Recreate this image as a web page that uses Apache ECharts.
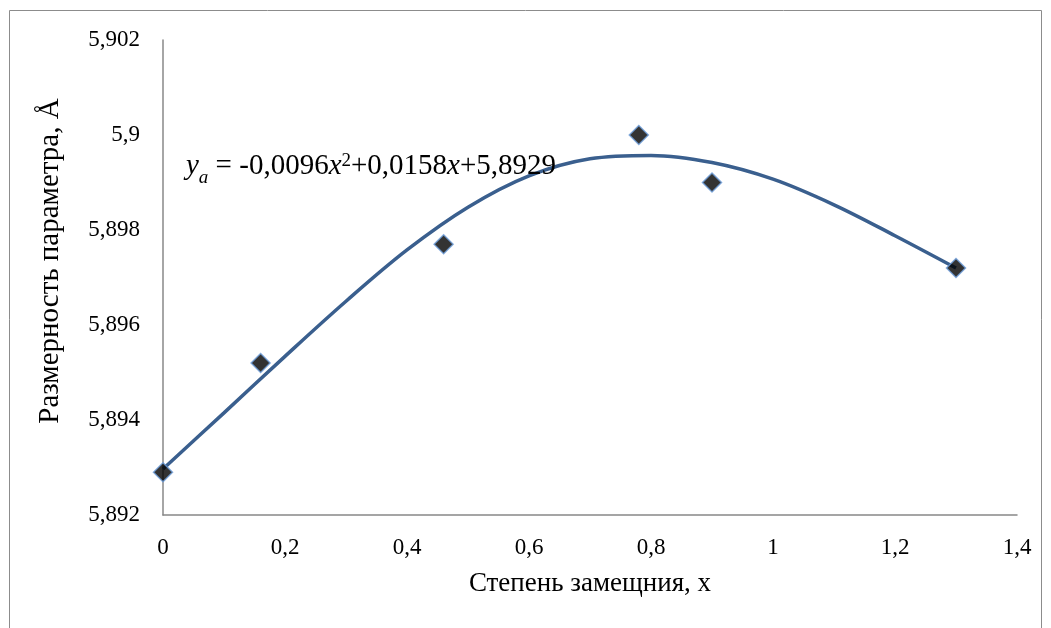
<!DOCTYPE html>
<html>
<head>
<meta charset="utf-8">
<script src="https://cdn.jsdelivr.net/npm/echarts@6/dist/echarts.min.js"></script>
<style>
  html, body {margin: 0; padding: 0; background: #fff;}
  #main {width: 1051px; height: 628px;}
</style>
</head>
<body>
<div id="main"></div>
<script>
// measured points
var substX = [0, 0.16, 0.46, 0.78, 0.9, 1.3];
var paramA = [5.8929, 5.8952, 5.8977, 5.9000, 5.8990, 5.8972];

// trend line, every 0.1
var trendX = [0, 0.1, 0.2, 0.3, 0.4, 0.5, 0.6, 0.7, 0.8, 0.9, 1.0, 1.1, 1.2, 1.3];
var trendY = [5.89297, 5.89415, 5.89534, 5.89650, 5.89758, 5.89848, 5.89914, 5.89950, 5.89957, 5.89942, 5.89907, 5.89853, 5.89788, 5.89720];

var xTitle = 'Степень замещния, x';
var yTitle = 'Размерность параметра, Å';

var font = '"Liberation Serif", Tinos, "Times New Roman", "DejaVu Serif", serif';

function comma(v) {
    return String(Math.round(v * 1000) / 1000).replace('.', ',');
}

var chart = echarts.init(document.getElementById('main'));

var trend = trendX.map(function (x, i) { return [x, trendY[i]]; });
var points = substX.map(function (x, i) { return [x, paramA[i]]; });

chart.setOption({
    backgroundColor: '#fff',
    animation: false,
    textStyle: {fontFamily: font},
    grid: {left: 163, right: 34, top: 40, bottom: 113},
    xAxis: {
        type: 'value',
        min: 0, max: 1.4, interval: 0.2,
        axisLine: {lineStyle: {color: '#888', width: 1.5}},
        axisTick: {show: false},
        splitLine: {show: false},
        axisLabel: {color: '#000', fontSize: 23, fontFamily: font, margin: 21, formatter: comma},
        name: xTitle,
        nameLocation: 'middle',
        nameGap: 55,
        nameTextStyle: {color: '#000', fontSize: 27, fontFamily: font}
    },
    yAxis: {
        type: 'value',
        min: 5.892, max: 5.902, interval: 0.002,
        axisLine: {show: true, lineStyle: {color: '#888', width: 1.5}},
        axisTick: {show: false},
        splitLine: {show: false},
        axisLabel: {color: '#000', fontSize: 23, fontFamily: font, margin: 23, formatter: comma}
    },
    graphic: [
        {
            type: 'rect', silent: true, z: -1,
            shape: {x: 9.5, y: 10.5, width: 1032, height: 700},
            style: {fill: null, stroke: '#8c8c8c', lineWidth: 1}
        },
        {
            // y axis title
            type: 'text', x: 50, y: 261, rotation: Math.PI / 2, z: 10,
            style: {
                text: yTitle, fontSize: 29, fontFamily: font, fill: '#000',
                align: 'center', verticalAlign: 'middle'
            }
        },
        {
            type: 'text', left: 186, top: 152, z: 10,
            style: {
                text: '{i|y}{sub|a} = -0,0096{i|x}{sup|2}+0,0158{i|x}+5,8929',
                fontSize: 29,
                fontFamily: font,
                fill: '#000',
                rich: {
                    i: {fontStyle: 'italic', fontSize: 29, lineHeight: 42, fontFamily: font},
                    sub: {fontStyle: 'italic', fontSize: 19, lineHeight: 22, verticalAlign: 'bottom', fontFamily: font},
                    sup: {fontSize: 19, lineHeight: 22, verticalAlign: 'middle', padding: [0, 0, 10, 0], fontFamily: font}
                }
            }
        }
    ],
    series: [
        {
            type: 'line',
            data: trend,
            smooth: 0.35,
            showSymbol: false,
            lineStyle: {color: '#3a5f8e', width: 3.5},
            z: 2
        },
        {
            type: 'scatter',
            data: points,
            symbol: 'diamond',
            symbolSize: 19,
            itemStyle: {color: '#000', borderColor: '#6a9bd8', borderWidth: 1.5},
            z: 3
        }
    ]
});
</script>
</body>
</html>
